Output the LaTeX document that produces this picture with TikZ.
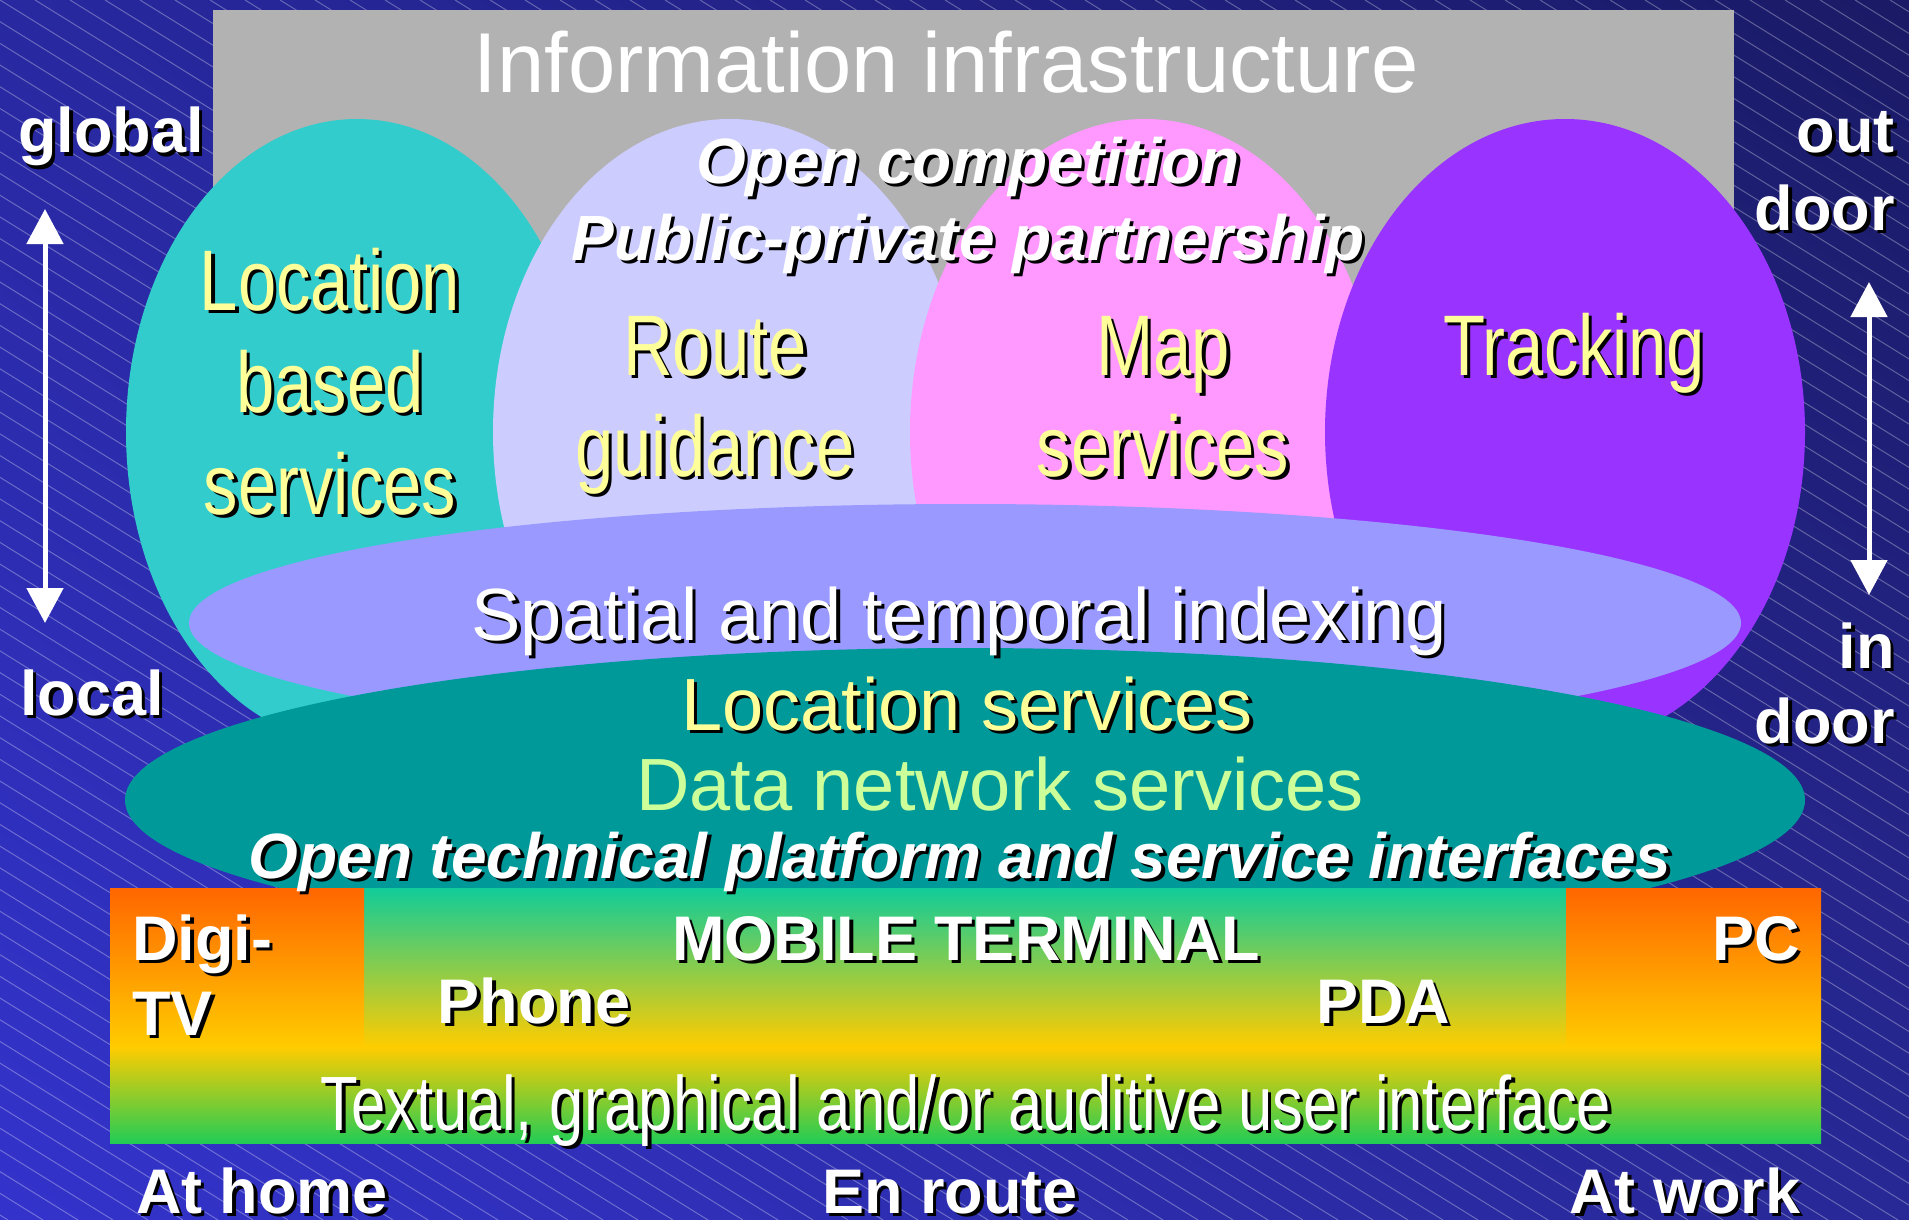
\documentclass[tikz,border=0pt]{standalone}
\usepackage{fontspec}
\setmainfont{Liberation Sans}
\newfontfamily\narrowfont[FakeStretch=0.8]{Liberation Sans}
\usetikzlibrary{arrows.meta,shadings}

\definecolor{bgul}{HTML}{2828A0}
\definecolor{bgur}{HTML}{1A1A66}
\definecolor{bgll}{HTML}{3333CC}
\definecolor{bglr}{HTML}{282896}
\definecolor{infgrey}{HTML}{B2B2B2}
\definecolor{lbsteal}{HTML}{33CCCC}
\definecolor{routelav}{HTML}{CCCCFF}
\definecolor{mappink}{HTML}{FF99FF}
\definecolor{trackpurple}{HTML}{9933FF}
\definecolor{indexblue}{HTML}{9999FF}
\definecolor{locteal}{HTML}{009999}
\definecolor{txtyellow}{HTML}{FFFF99}
\definecolor{txtgreen}{HTML}{CCFF99}
\definecolor{bartop}{HTML}{11CC99}
\definecolor{barmid}{HTML}{99CC7A}
\definecolor{baryellow}{HTML}{FFCC00}
\definecolor{barbottom}{HTML}{22CC55}
\definecolor{barorange}{HTML}{FF6600}

\newcommand{\shadowed}[1]{\leavevmode\rlap{\kern3.5pt\raisebox{-3.5pt}{\color{black}#1}}#1}

\tikzset{
  txt/.style={inner sep=0pt, anchor=base, text=white},
  bigtxt/.style={txt, font=\fontsize{85}{95}\selectfont},
  midtxt/.style={txt, font=\fontsize{74}{84}\selectfont},
  condtxt/.style={txt, text=txtyellow, font=\narrowfont\fontsize{86}{100}\selectfont},
  boldtxt/.style={txt, font=\fontsize{63}{72}\selectfont\bfseries},
  slanttxt/.style={txt, font=\fontsize{64}{72}\selectfont\bfseries\itshape},
  axisarrow/.style={draw=white, line width=5pt, {Triangle[width=36pt,length=35pt]}-{Triangle[width=36pt,length=35pt]}}
}

\begin{document}
\begin{tikzpicture}[x=1pt, y=-1pt]
  \useasboundingbox (0,0) rectangle (1909,1220);
  \shade[upper left=bgul, upper right=bgur, lower left=bgll, lower right=bglr] (0,0) rectangle (1909,1220);
  \begin{scope}
    \clip (0,0) rectangle (1909,1220);
    \foreach \sx in {-2065,-2030,...,1909}
      \draw[white, opacity=0.3, line width=1pt] (\sx,0) -- ++(1968,1220);
  \end{scope}

  \fill[infgrey] (213,10) rectangle (1734,450);
  \fill[lbsteal] (357,432) ellipse [x radius=231pt, y radius=313pt];
  \fill[routelav] (730,432) ellipse [x radius=237pt, y radius=313pt];
  \fill[mappink] (1145,432) ellipse [x radius=235pt, y radius=313pt];
  \fill[trackpurple] (1565,432) ellipse [x radius=240pt, y radius=313pt];
  \fill[indexblue] (965,623) ellipse [x radius=776pt, y radius=119pt];
  \fill[locteal] (965,800) ellipse [x radius=840pt, y radius=152pt];

  \shade[top color=bartop, middle color=barmid, bottom color=baryellow] (364,888) rectangle (1566,1047);
  \shade[top color=barorange, bottom color=baryellow] (110,888) rectangle (364,1047);
  \shade[top color=barorange, bottom color=baryellow] (1566,888) rectangle (1821,1047);
  \shade[top color=baryellow, bottom color=barbottom] (110,1047) rectangle (1821,1143);

  \node[bigtxt] (infra) at (946,93) {Information infrastructure};
  \node[slanttxt] (compet) at (968,183) {\shadowed{Open competition}};
  \node[slanttxt] (ppp) at (968,260) {\shadowed{Public-private partnership}};

  \begin{scope}[every node/.style={condtxt}]
    \node (lbs1) at (330,310) {\shadowed{Location}};
    \node (lbs2) at (330,412) {\shadowed{based}};
    \node (lbs3) at (330,514) {\shadowed{services}};
    \node (route1) at (715,375) {\shadowed{Route}};
    \node (route2) at (715,476) {\shadowed{guidance}};
    \node (map1) at (1163,375) {\shadowed{Map}};
    \node (map2) at (1163,476) {\shadowed{services}};
    \node (track) at (1574,375) {\shadowed{Tracking}};
  \end{scope}

  \node[midtxt] (index) at (959,640) {\shadowed{Spatial and temporal indexing}};
  \node[midtxt, text=txtyellow] (locserv) at (967,730) {\shadowed{Location services}};
  \node[midtxt, text=txtgreen] (datanet) at (1000,810) {Data network services};
  \node[slanttxt] (platform) at (960,878) {\shadowed{Open technical platform and service interfaces}};

  \begin{scope}[every node/.style={boldtxt}]
    \node[anchor=base west] (digi1) at (132,960) {\shadowed{Digi-}};
    \node[anchor=base west] (digi2) at (132,1035) {\shadowed{TV}};
    \node (mobile) at (966,960) {\shadowed{MOBILE TERMINAL}};
    \node (phone) at (534,1023) {\shadowed{Phone}};
    \node (pda) at (1383,1023) {\shadowed{PDA}};
    \node[anchor=base east] (pc) at (1800,960) {\shadowed{PC}};
    \node (home) at (262,1213) {\shadowed{At home}};
    \node (enroute) at (950,1213) {\shadowed{En route}};
    \node (work) at (1685,1213) {\shadowed{At work}};
    \node[anchor=base west] (global) at (18,153) {\shadowed{global}};
    \node[anchor=base west] (local) at (20,715) {\shadowed{local}};
    \node[anchor=base east] (out1) at (1895,153) {\shadowed{out}};
    \node[anchor=base east] (out2) at (1895,230) {\shadowed{door}};
    \node[anchor=base east] (in1) at (1895,668) {\shadowed{in}};
    \node[anchor=base east] (in2) at (1895,743) {\shadowed{door}};
  \end{scope}

  \node[condtxt, text=white, font=\narrowfont\fontsize{77}{90}\selectfont] (ui) at (966,1130) {\shadowed{Textual, graphical and/or auditive user interface}};

  \coordinate (gtip) at (45,209);
  \coordinate (ltip) at (45,623);
  \coordinate (otip) at (1869,282);
  \coordinate (itip) at (1869,595);
  \draw[axisarrow] (gtip) -- (ltip);
  \draw[axisarrow] (otip) -- (itip);
\end{tikzpicture}
\end{document}
